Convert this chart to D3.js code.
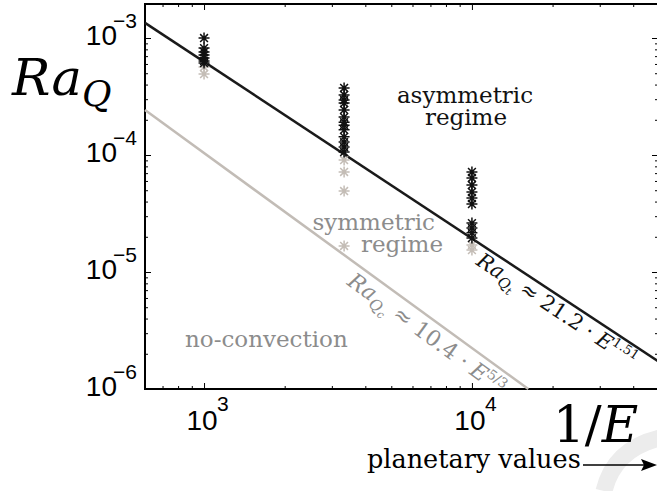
<!DOCTYPE html>
<html>
<head>
<meta charset="utf-8">
<script src="https://cdn.jsdelivr.net/npm/d3@7"></script>
<style>
  body { margin: 0; background: #fff; }
  svg { display: block; }
  .serif { font-family: "DejaVu Serif", serif; }
  .sans { font-family: "Liberation Sans", Arial, sans-serif; }
</style>
</head>
<body>
<svg id="fig" width="657" height="491"></svg>
<script>
// Ra_Q vs 1/E (log-log)
const asymE = [1000, 1000, 1000, 1000, 1000, 1000, 1000,
    3333, 3333, 3333, 3333, 3333, 3333, 3333, 3333, 3333, 3333, 3333, 3333, 3333,
    10000, 10000, 10000, 10000, 10000, 10000, 10000, 10000, 10000, 10000];
const asymRa = [1.0e-3, 8.2e-4, 7.6e-4, 7.15e-4, 6.75e-4, 6.36e-4, 6.11e-4,
    3.74e-4, 3.26e-4, 2.95e-4, 2.78e-4, 2.43e-4, 2.11e-4, 1.91e-4, 1.80e-4, 1.64e-4, 1.43e-4, 1.29e-4, 1.17e-4, 1.06e-4,
    7.16e-5, 6.36e-5, 5.54e-5, 4.83e-5, 4.29e-5, 3.81e-5, 2.62e-5, 2.38e-5, 2.16e-5, 1.95e-5];
const symE = [1000, 1000, 3333, 3333, 3333, 3333, 10000, 10000];
const symRa = [5.65e-4, 4.92e-4, 9.06e-5, 7.16e-5, 4.92e-5, 1.67e-5, 1.70e-5, 1.54e-5];

// the two fitted power laws, as end points [1/E, Ra_Q]
const fitT = [[602, 1.346e-3], [49500, 1.728e-6]];   // Ra_Qt ~ 21.2 E^1.51
const fitC = [[602, 2.423e-4], [16230, 1e-6]];       // Ra_Qc ~ 10.4 E^5/3

const xMajor = [1e3, 1e4];
const yMajor = [1e-6, 1e-5, 1e-4, 1e-3];

const L = 145, R = 658, T = 4, B = 389;
const x = d3.scaleLog().domain([602, 49500]).range([L, R]);
const y = d3.scaleLog().domain([1e-6, 1.953e-3]).range([B, T]);

const Fig = d3.select("#fig");

// faint watermark stroke in the corner
Fig.append("path")
    .attr("d", "M604,491C610,466 626,446 660,438")
    .attr("fill", "none").attr("stroke", "#ececec").attr("stroke-width", 17);

// ticks, all pointing inward
const xMinor = x.ticks().filter(v => !xMajor.includes(v));
const yMinor = y.ticks().filter(v => !yMajor.includes(v));

function tickAxis(axis, vals, size, tr) {
    const g = Fig.append("g")
        .attr("transform", tr)
        .call(axis.tickValues(vals).tickSize(-size).tickSizeOuter(0).tickFormat(""));
    g.select(".domain").remove();
    g.selectAll("line").attr("stroke", "#000").attr("stroke-width", 1);
}
tickAxis(d3.axisBottom(x), xMinor, 3, `translate(0,${B})`);
tickAxis(d3.axisBottom(x), xMajor, 6, `translate(0,${B})`);
tickAxis(d3.axisTop(x), xMinor, 3, `translate(0,${T})`);
tickAxis(d3.axisTop(x), xMajor, 6, `translate(0,${T})`);
tickAxis(d3.axisLeft(y), yMinor, 3, `translate(${L},0)`);
tickAxis(d3.axisLeft(y), yMajor, 6, `translate(${L},0)`);
tickAxis(d3.axisRight(y), yMinor, 3, `translate(${R},0)`);
tickAxis(d3.axisRight(y), yMajor, 6, `translate(${R},0)`);

Fig.append("rect")
    .attr("x", L).attr("y", T)
    .attr("width", R - L).attr("height", B - T)
    .attr("fill", "none").attr("stroke", "#000").attr("stroke-width", 2);

// tick labels 10^k
yMajor.forEach(v => {
    const k = Math.round(Math.log10(v));
    Fig.append("text").attr("class", "sans")
        .attr("x", 117).attr("y", y(v) + 7)
        .attr("text-anchor", "end").attr("font-size", 28)
        .text("10");
    Fig.append("text").attr("class", "sans")
        .attr("x", 113).attr("y", y(v) - 10)
        .attr("font-size", 21)
        .text("\u2212" + Math.abs(k));
});
xMajor.forEach(v => {
    const k = Math.round(Math.log10(v));
    Fig.append("text").attr("class", "sans")
        .attr("x", x(v) - 2).attr("y", 430)
        .attr("text-anchor", "middle").attr("font-size", 28)
        .text("10");
    Fig.append("text").attr("class", "sans")
        .attr("x", x(v) + 13).attr("y", 411)
        .attr("font-size", 21)
        .text(k);
});

// fit lines
const line = d3.line().x(d => x(d[0])).y(d => y(d[1]));
Fig.append("path").datum(fitC)
    .attr("d", line)
    .attr("fill", "none").attr("stroke", "#c2bcb6").attr("stroke-width", 2.5);
Fig.append("path").datum(fitT)
    .attr("d", line)
    .attr("fill", "none").attr("stroke", "#1a1a1a").attr("stroke-width", 2.5);

// asterisk markers
const star = "M0,-5.5V5.5M-5.5,0H5.5M-3.9,-3.9L3.9,3.9M-3.9,3.9L3.9,-3.9";
Fig.selectAll(".sym")
    .data(symE.map((e, i) => [e, symRa[i]]))
    .join("path")
    .attr("class", "sym")
    .attr("transform", d => `translate(${x(d[0])},${y(d[1])})`)
    .attr("d", star)
    .attr("stroke", "#c4bdb6").attr("stroke-width", 1.5).attr("fill", "none");
Fig.selectAll(".asym")
    .data(asymE.map((e, i) => [e, asymRa[i]]))
    .join("path")
    .attr("class", "asym")
    .attr("transform", d => `translate(${x(d[0])},${y(d[1])})`)
    .attr("d", star)
    .attr("stroke", "#111").attr("stroke-width", 1.5).attr("fill", "none");

// axis titles
const ra = Fig.append("text").attr("class", "serif")
    .attr("x", 12).attr("y", 95).attr("font-style", "italic");
ra.append("tspan").attr("font-size", 51).text("Ra");
ra.append("tspan").attr("font-size", 36).attr("dy", 11).text("Q");

const ie = Fig.append("text").attr("class", "serif")
    .attr("x", 553).attr("y", 442).attr("font-size", 50);
ie.append("tspan").text("1/");
ie.append("tspan").attr("font-style", "italic").text("E");

Fig.append("text").attr("class", "serif")
    .attr("x", 367).attr("y", 468).attr("font-size", 25.5)
    .text("planetary values");
Fig.append("line")
    .attr("x1", 583).attr("x2", 648).attr("y1", 465).attr("y2", 465)
    .attr("stroke", "#000").attr("stroke-width", 1.6);
Fig.append("path")
    .attr("d", "M657,465L641,459L644,465L641,471Z")
    .attr("fill", "#000");

// regime annotations, two lines each
function label(lines, px, py, col, anchor) {
    const t = Fig.append("text").attr("class", "serif")
        .attr("y", py).attr("font-size", 23)
        .attr("text-anchor", anchor).attr("fill", col);
    lines.forEach((s, i) => {
        t.append("tspan").attr("x", px[i]).attr("dy", i ? 22 : 0).text(s);
    });
}
label(["asymmetric", "regime"], [465, 466], 103, "#111", "middle");
label(["symmetric", "regime"], [435, 443], 230, "#8c8c8c", "end");
label(["no-convection"], [185], 347, "#8c8c8c", "start");

// fit formulas, written along the lines
function formula(px, py, ang, col, fs, sub2, coef, expo) {
    const t = Fig.append("text").attr("class", "serif")
        .attr("transform", `translate(${px},${py}) rotate(${ang})`)
        .attr("fill", col).attr("font-size", fs);
    t.append("tspan").attr("font-style", "italic").text("Ra");
    t.append("tspan").attr("font-style", "italic").attr("font-size", fs * 0.7).attr("dy", 5).text("Q");
    t.append("tspan").attr("font-style", "italic").attr("font-size", fs * 0.5).attr("dy", 3).text(sub2);
    t.append("tspan").attr("dy", -8).text(" \u2248 " + coef + " \u00b7 ");
    t.append("tspan").attr("font-style", "italic").text("E");
    t.append("tspan").attr("font-size", fs * 0.62).attr("dy", -8).text(expo);
}
formula(475, 264, 33.4, "#111", 21, "t", "21.2", "1.51");
formula(346, 284, 36.1, "#8c8c8c", 22, "c", "10.4", "5/3");
</script>
</body>
</html>
